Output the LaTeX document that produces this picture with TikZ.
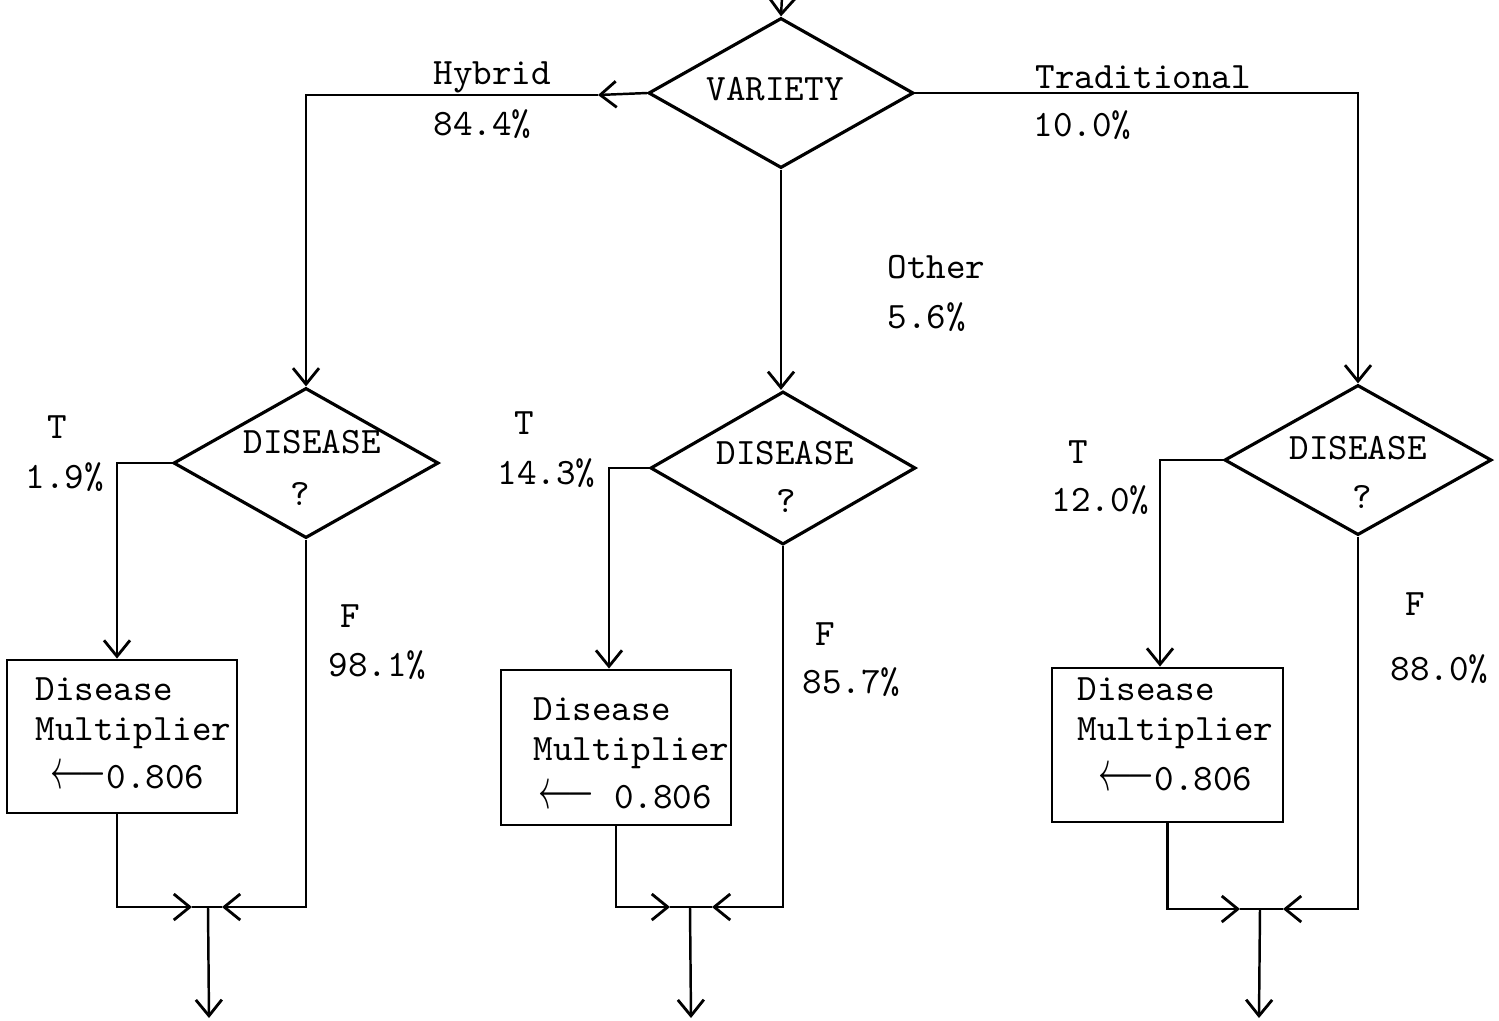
\documentclass[tikz,border=0pt]{standalone}
\usepackage{fontspec}
\usetikzlibrary{arrows.meta,shapes.geometric}
\newcommand{\larr}{\scalebox{0.9}[1.5]{$\longleftarrow$}}
\begin{document}
\begin{tikzpicture}[x=0.01cm,y=-0.01cm,
  conn/.style={line width=0.7pt},
  tip/.style={-{Straight Barb[length=1.6mm,width=2.6mm,line width=0.8pt]}},
  dia/.style={diamond,draw,line width=0.9pt,inner sep=0pt,minimum width=2.65cm,minimum height=1.5cm},
  box/.style={rectangle,draw,line width=0.8pt,inner sep=0pt,minimum width=2.3cm,minimum height=1.53cm},
  txt/.style={font=\ttfamily\fontsize{10.6}{12}\selectfont,inner sep=0pt,anchor=base west},
  two/.style={txt,align=left,font=\ttfamily\fontsize{10.6}{11.2}\selectfont}]
\useasboundingbox (0,0) rectangle (1499,1020);
% shapes
\node[dia] (v) at (781,93) {};
\node[dia] (d1) at (306,463) {};
\node[dia,minimum height=1.53cm] (d2) at (783,468) {};
\node[dia,minimum width=2.67cm] (d3) at (1358,460) {};
\node[box] (b1) at (122,736.5) {};
\node[box,minimum height=1.55cm] (b2) at (616,747.5) {};
\node[box,minimum width=2.31cm,minimum height=1.54cm] (b3) at (1167.5,745) {};
% coordinates
\coordinate (in) at (782,-3);
\coordinate (hm) at (598,95);
\coordinate (j1) at (208,907); \coordinate (l1) at (192,907); \coordinate (r1) at (222,907); \coordinate (o1) at (209,1018);
\coordinate (j2) at (690,907); \coordinate (l2) at (670,907); \coordinate (r2) at (712,907); \coordinate (o2) at (691,1018);
\coordinate (j3) at (1260,909); \coordinate (l3) at (1240,909); \coordinate (r3) at (1283,909); \coordinate (o3) at (1259,1018);
% connectors from VARIETY
\draw[conn,tip] (in) -- (v.north);
\draw[conn,tip] (v.west) -- (hm);
\draw[conn,tip] (hm) -| (d1.north);
\draw[conn,tip] (v.east) -| (d3.north);
\draw[conn,tip] (v.south) -- (v.south |- d2.north);
% T branches
\draw[conn,tip] (d1.west) -| ([xshift=-0.05cm]b1.north);
\draw[conn,tip] (d2.west) -| ([xshift=-0.07cm]b2.north);
\draw[conn,tip] (d3.west) -| ([xshift=-0.075cm]b3.north);
% joins
\draw[conn,tip] ([xshift=-0.05cm]b1.south) |- (l1); \draw[conn] (l1) -- (j1);
\draw[conn,tip] (d1.south) |- (r1); \draw[conn] (r1) -- (j1);
\draw[conn,tip] (j1) -- (o1);
\draw[conn,tip] (b2.south) |- (l2); \draw[conn] (l2) -- (j2);
\draw[conn,tip] (d2.south) |- (r2); \draw[conn] (r2) -- (j2);
\draw[conn,tip] (j2) -- (o2);
\draw[conn,tip] (b3.south) |- (l3); \draw[conn] (l3) -- (j3);
\draw[conn,tip] (d3.south) |- (r3); \draw[conn] (r3) -- (j3);
\draw[conn,tip] (j3) -- (o3);
% texts
\node[txt] (tv) at (706,100) {VARIETY};
\node[txt] (th) at (433,84) {Hybrid};
\node[txt] (ph) at (433,135) {84.4\%};
\node[txt] (tt) at (1035,88) {Traditional};
\node[txt] (pt) at (1033,136) {10.0\%};
\node[txt] (to) at (887,278) {Other};
\node[txt] (po) at (887,328) {5.6\%};
% left
\node[txt] (t1) at (47,438) {T};
\node[txt] (p1) at (25,488) {1.9\%};
\node[txt] (q1a) at (243,453) {DISEASE};
\node[txt] (q1b) at (290,505) {?};
\node[txt] (f1) at (340,627) {F};
\node[txt] (g1) at (328,676) {98.1\%};
\node[two] (m1a) at (35,740) {Disease\\Multiplier};
\node[txt] (m1c) at (50,788) {\larr0.806};
% middle
\node[txt] (t2) at (514,434) {T};
\node[txt] (p2) at (497,484) {14.3\%};
\node[txt] (q2a) at (716,464) {DISEASE};
\node[txt] (q2b) at (776,512) {?};
\node[txt] (f2) at (815,645) {F};
\node[txt] (g2) at (802,693) {85.7\%};
\node[two] (m2a) at (533,760) {Disease\\Multiplier};
\node[txt] (m2c) at (538,808) {\larr{} 0.806};
% right
\node[txt] (t3) at (1068,463) {T};
\node[txt] (p3) at (1051,511) {12.0\%};
\node[txt] (q3a) at (1289,459) {DISEASE};
\node[txt] (q3b) at (1352,508) {?};
\node[txt] (f3) at (1405,615) {F};
\node[txt] (g3) at (1390,680) {88.0\%};
\node[two] (m3a) at (1077,740) {Disease\\Multiplier};
\node[txt] (m3c) at (1098,790) {\larr0.806};
\end{tikzpicture}
\end{document}
